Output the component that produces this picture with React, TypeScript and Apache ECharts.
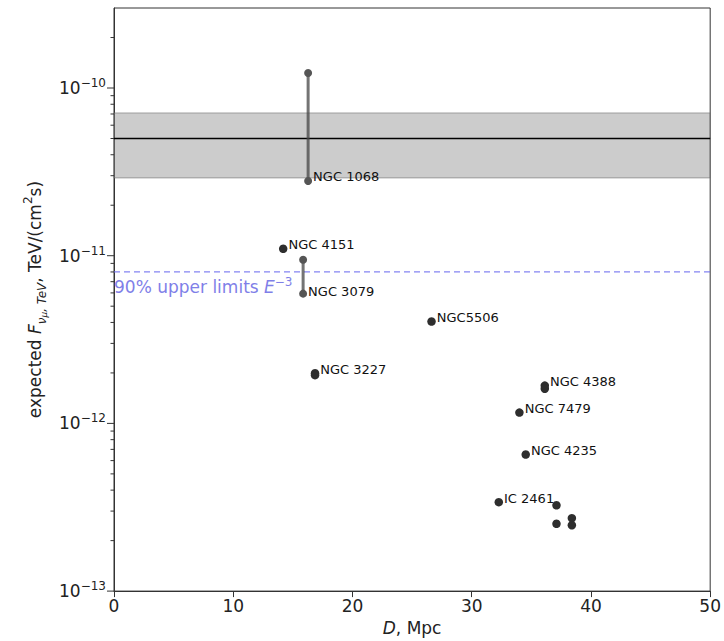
import React, { useEffect, useRef } from 'react';
import * as echarts from 'echarts';

// Single sources: distance (Mpc), expected flux
const pointNames = ['NGC 4151', 'NGC5506', 'NGC 3227', '', 'NGC 4388', '', 'NGC 7479', 'NGC 4235', 'IC 2461', '', '', '', ''];
const pointD = [14.19, 26.63, 16.86, 16.86, 36.13, 36.13, 34.0, 34.53, 32.27, 37.11, 37.11, 38.4, 38.4];
const pointF = [1.1e-11, 4.05e-12, 1.99e-12, 1.94e-12, 1.68e-12, 1.61e-12, 1.16e-12, 6.52e-13, 3.39e-13, 3.25e-13, 2.52e-13, 2.72e-13, 2.47e-13];

// Sources with a flux range
const rangeNames = ['NGC 1068', 'NGC 3079'];
const rangeD = [16.28, 15.86];
const rangeLow = [2.79e-11, 5.94e-12];
const rangeHigh = [1.23e-10, 9.46e-12];

// Measured band and upper limit
const bandLow = 2.91e-11;
const bandHigh = 7.1e-11;
const bandMid = 5.0e-11;
const upperLimit = 8.0e-12;

// Axis ranges and ticks
const xMin = 0;
const xMax = 50;
const xInterval = 10;
const yMin = 1e-13;
const yMax = 3e-10;
const yMajorTicks = [1e-13, 1e-12, 1e-11, 1e-10];
const yMinorTicks = [
  2e-13, 3e-13, 4e-13, 5e-13, 6e-13, 7e-13, 8e-13, 9e-13,
  2e-12, 3e-12, 4e-12, 5e-12, 6e-12, 7e-12, 8e-12, 9e-12,
  2e-11, 3e-11, 4e-11, 5e-11, 6e-11, 7e-11, 8e-11, 9e-11,
  2e-10,
];

const FONT = 'DejaVu Sans';
const BLUE = '#7f7fe8';

export default function App() {
  const ref = useRef<HTMLDivElement>(null);

  useEffect(() => {
    const chart = echarts.init(ref.current!, null, { renderer: 'svg' });

    const pointData = pointD.map((d, i) => ({
      value: [d, pointF[i]],
      name: pointNames[i],
      label: { show: pointNames[i] !== '' },
    }));

    const rangeSeries: any[] = rangeNames.map((n, i) => ({
      type: 'line',
      data: [
        { value: [rangeD[i], rangeLow[i]], name: n, label: { show: true } },
        { value: [rangeD[i], rangeHigh[i]], name: '', label: { show: false } },
      ],
      symbol: 'circle',
      symbolSize: 8,
      lineStyle: { color: 'rgba(70,70,70,0.75)', width: 3 },
      itemStyle: { color: '#555', opacity: 1 },
      label: {
        position: 'right',
        distance: 1,
        offset: [0, i === 0 ? -4 : -2],
        formatter: (p: any) => p.name,
        fontFamily: FONT,
        fontSize: 13,
        color: '#111',
      },
      z: 4,
    }));

    const tickData = [
      ...yMajorTicks.map((v) => [xMin, v, 7]),
      ...yMinorTicks.map((v) => [xMin, v, 3.5]),
    ];

    const option: any = {
      animation: false,
      backgroundColor: '#fff',
      textStyle: { fontFamily: FONT },
      grid: {
        left: 114,
        right: 11,
        top: 8,
        bottom: 49,
        show: true,
        borderColor: '#333',
        borderWidth: 1,
        backgroundColor: 'transparent',
      },
      xAxis: {
        type: 'value',
        min: xMin,
        max: xMax,
        interval: xInterval,
        splitLine: { show: false },
        axisLine: { lineStyle: { color: '#333', width: 1 } },
        axisTick: { length: 6, lineStyle: { color: '#333' } },
        axisLabel: { fontFamily: FONT, fontSize: 17, color: '#222', margin: 6 },
        name: '{i|D}{n|, Mpc}',
        nameLocation: 'middle',
        nameGap: 27,
        nameTextStyle: {
          rich: {
            i: { fontFamily: FONT, fontSize: 17, fontStyle: 'italic', color: '#222' },
            n: { fontFamily: FONT, fontSize: 17, color: '#222' },
          },
        },
      },
      yAxis: {
        type: 'log',
        logBase: 10,
        min: yMin,
        max: yMax,
        splitLine: { show: false },
        axisLine: { show: true, lineStyle: { color: '#333', width: 1 } },
        axisTick: { show: false },
        axisLabel: {
          margin: 8,
          showMaxLabel: false,
          formatter: (v: number) => {
            const e = Math.log10(v);
            const r = Math.round(e);
            if (Math.abs(e - r) > 1e-6) return '';
            return '{b|10}{s|\u2212' + Math.abs(r) + '}';
          },
          rich: {
            b: { fontFamily: FONT, fontSize: 17, color: '#222', lineHeight: 22 },
            s: { fontFamily: FONT, fontSize: 12, color: '#222', verticalAlign: 'top', lineHeight: 12 },
          },
        },
        name: '{a|expected }{f|F}{s|\u03bd}{ss|\u03bc}{s|, TeV}{a|, TeV/(cm}{p|2}{a|s)}',
        nameLocation: 'middle',
        nameGap: 54,
        nameTextStyle: {
          rich: {
            a: { fontFamily: FONT, fontSize: 17, color: '#222', lineHeight: 26 },
            f: { fontFamily: FONT, fontSize: 17, color: '#222', fontStyle: 'italic', lineHeight: 26 },
            s: { fontFamily: FONT, fontSize: 12, color: '#222', fontStyle: 'italic', verticalAlign: 'bottom', lineHeight: 10 },
            ss: { fontFamily: FONT, fontSize: 9, color: '#222', fontStyle: 'italic', verticalAlign: 'bottom', lineHeight: 6 },
            p: { fontFamily: FONT, fontSize: 12, color: '#222', verticalAlign: 'top', lineHeight: 12 },
          },
        },
      },
      series: [
        {
          type: 'line',
          data: [],
          markArea: {
            silent: true,
            itemStyle: { color: 'rgba(128,128,128,0.4)', borderColor: 'rgba(110,110,110,0.6)', borderWidth: 1 },
            data: [[{ yAxis: bandLow }, { yAxis: bandHigh }]],
          },
          z: 1,
        },
        {
          type: 'line',
          data: [
            [xMin, bandMid],
            [xMax, bandMid],
          ],
          symbol: 'none',
          lineStyle: { color: '#000', width: 1.5 },
          z: 2,
        },
        {
          type: 'line',
          data: [
            [xMin, upperLimit],
            [xMax, upperLimit],
          ],
          symbol: 'none',
          lineStyle: { color: 'rgba(110,110,240,0.85)', width: 1.2, type: [6, 4] },
          z: 2,
        },
        {
          type: 'scatter',
          data: [{ value: [xMin, upperLimit] }],
          symbolSize: 0,
          itemStyle: { color: 'transparent', opacity: 1 },
          label: {
            show: true,
            position: 'insideBottomLeft',
            align: 'left',
            verticalAlign: 'top',
            offset: [-5, 9],
            opacity: 1,
            formatter: '{t|90% upper limits }{e|E}{x|\u22123}',
            rich: {
              t: { fontFamily: FONT, fontSize: 17, color: BLUE, lineHeight: 22 },
              e: { fontFamily: FONT, fontSize: 17, color: BLUE, fontStyle: 'italic', lineHeight: 22 },
              x: { fontFamily: FONT, fontSize: 12, color: BLUE, verticalAlign: 'top', lineHeight: 12 },
            },
          },
          z: 3,
        },
        {
          type: 'scatter',
          data: pointData,
          symbolSize: 8.5,
          itemStyle: { color: '#2e2e2e', opacity: 1 },
          label: {
            position: 'right',
            distance: 1,
            offset: [0, -4],
            opacity: 1,
            formatter: (p: any) => p.name,
            fontFamily: FONT,
            fontSize: 13,
            color: '#111',
          },
          z: 5,
        },
        ...rangeSeries,
        {
          type: 'custom',
          clip: false,
          silent: true,
          data: tickData,
          renderItem: (params: any, api: any) => {
            const p = api.coord([api.value(0), api.value(1)]);
            const len = api.value(2);
            return {
              type: 'line',
              shape: { x1: p[0] - len, y1: p[1], x2: p[0], y2: p[1] },
              style: { stroke: '#333', lineWidth: 1 },
            };
          },
          z: 6,
        },
      ],
    };

    chart.setOption(option);
    return () => chart.dispose();
  }, []);

  return (
    <div
      ref={ref}
      style={{ width: 724, height: 641, position: 'absolute', left: 0, top: 0 }}
    />
  );
}
